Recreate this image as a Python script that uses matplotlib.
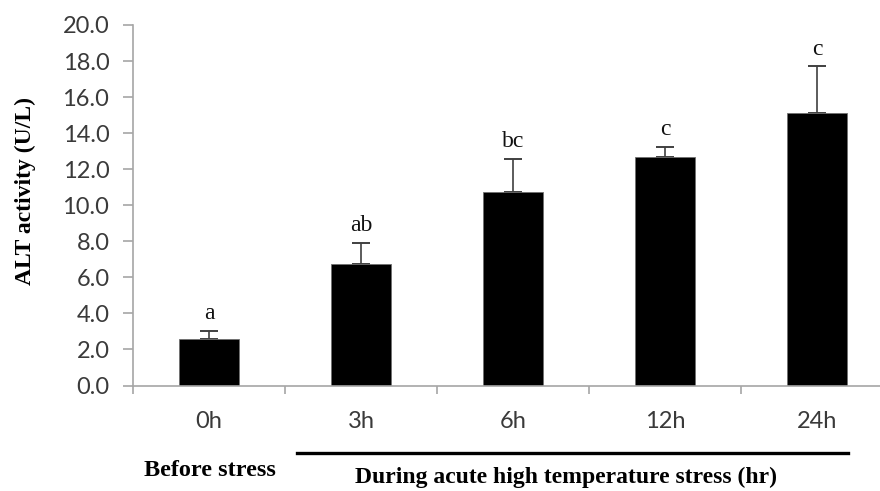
import matplotlib

matplotlib.use("Agg")
import matplotlib.pyplot as plt
from matplotlib.ticker import FixedLocator, FuncFormatter

# ALT activity after acute high temperature stress
times = ["0h", "3h", "6h", "12h", "24h"]
alt_mean = [2.56, 6.72, 10.75, 12.69, 15.10]
alt_sd = [0.48, 1.17, 1.83, 0.55, 2.60]
letters = ["a", "ab", "bc", "c", "c"]

AXIS = "#a6a6a6"
TICK_TXT = "#3a3a3a"
ERR = "#404040"

fig = plt.figure(figsize=(8.8, 4.91), dpi=100)
# category width runs past the right edge, as in the cropped original
ax = fig.add_axes([133 / 880, 1 - 385.5 / 491, 760 / 880, 360.5 / 491])

x = list(range(len(times)))
ax.bar(x, alt_mean, width=0.4, color="black", edgecolor="#707070", linewidth=0.6, zorder=2)
ax.errorbar(x, alt_mean, yerr=[[0] * len(x), alt_sd], fmt="none", ecolor=ERR,
            elinewidth=1.2, capsize=6.5, capthick=1.4, zorder=1)
for xi, m, s, lab in zip(x, alt_mean, alt_sd, letters):
    ax.annotate(lab, (xi, m + s), xytext=(0, 5), textcoords="offset points",
                ha="center", va="bottom", fontsize=17, family="Liberation Serif",
                color="#111111")

ax.set_xlim(-0.5, len(times) - 0.5)
ax.set_ylim(0, 20)
ax.yaxis.set_major_locator(FixedLocator([i * 2 for i in range(11)]))
ax.yaxis.set_major_formatter(FuncFormatter(lambda v, _: f"{v:.1f}"))
ax.set_xticks(x)
ax.set_xticklabels(times)
ax.set_xticks([i - 0.5 for i in range(len(times) + 1)], minor=True)

for side in ("top", "right"):
    ax.spines[side].set_visible(False)
for side in ("left", "bottom"):
    ax.spines[side].set_color(AXIS)
    ax.spines[side].set_linewidth(1.2)

ax.tick_params(axis="y", which="major", direction="out", length=7, width=1.2,
               color=AXIS, pad=10, labelsize=17, labelcolor=TICK_TXT)
ax.tick_params(axis="x", which="major", length=0, pad=18, labelsize=17,
               labelcolor=TICK_TXT)
ax.tick_params(axis="x", which="minor", direction="out", length=6, width=1.2,
               color=AXIS)
for lbl in ax.get_xticklabels() + ax.get_yticklabels():
    lbl.set_family("Lato")

ax.set_ylabel("ALT activity (U/L)", family="Liberation Serif", fontweight="bold",
              fontsize=17, color="black")
ax.yaxis.set_label_coords(-0.127, 0.54)

# group annotations under the axis
fig.text(210 / 880, 1 - 470 / 491, "Before stress", ha="center", va="center",
         family="Liberation Serif", fontweight="bold", fontsize=17.5)
fig.add_artist(plt.Line2D([297 / 880, 848 / 880], [1 - 453 / 491, 1 - 453 / 491],
                          transform=fig.transFigure, color="black", linewidth=2.4))
fig.text(566 / 880, 1 - 477 / 491, "During acute high temperature stress (hr)",
         ha="center", va="center", family="Liberation Serif", fontweight="bold",
         fontsize=17)

fig.savefig("out.png", dpi=100)
